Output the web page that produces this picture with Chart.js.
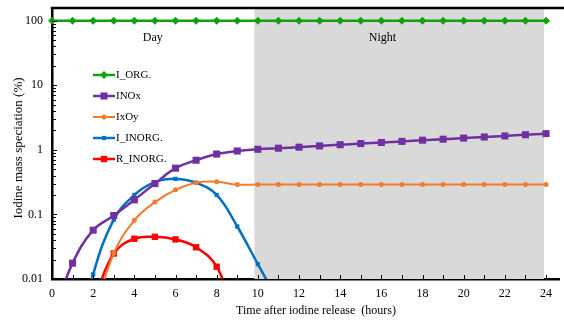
<!DOCTYPE html>
<html>
<head>
<meta charset="utf-8">
<script src="https://cdn.jsdelivr.net/npm/chart.js@4/dist/chart.umd.min.js"></script>
<style>
html,body{margin:0;padding:0;background:#fff;}
#wrap{width:564px;height:320px;position:relative;}
</style>
</head>
<body>
<div id="wrap"><canvas id="c" width="564" height="320"></canvas></div>
<script>
const hours = [0,1,2,3,4,5,6,7,8,9,10,11,12,13,14,15,16,17,18,19,20,21,22,23,24];
const iOrg  = [100,100,100,100,100,100,100,100,100,100,100,100,100,100,100,100,100,100,100,100,100,100,100,100,100];
const inox  = [0.0025,0.0176,0.057,0.096,0.168,0.30,0.52,0.69,0.86,0.96,1.02,1.06,1.10,1.15,1.20,1.25,1.30,1.35,1.41,1.46,1.52,1.58,1.64,1.71,1.78];
const ixoy  = [null,null,0.0025,0.025,0.081,0.155,0.24,0.31,0.32,0.29,0.29,0.29,0.29,0.29,0.29,0.29,0.29,0.29,0.29,0.29,0.29,0.29,0.29,0.29,0.29];
const iInorg= [null,0.0005,0.0118,0.083,0.20,0.316,0.355,0.31,0.20,0.065,0.017,0.0045,null,null,null,null,null,null,null,null,null,null,null,null,null];
const rInorg= [null,null,0.0043,0.0248,0.042,0.045,0.041,0.031,0.0155,0.0023,null,null,null,null,null,null,null,null,null,null,null,null,null,null,null];
const seriesNames = ['I_ORG.','INOx','IxOy','I_INORG.','R_INORG.'];
const xTicks = [0,2,4,6,8,10,12,14,16,18,20,22,24];
const yTicks = [0.01,0.1,1,10,100];
const nightStart = 9.83, nightEnd = 23.9;
const xTitle = 'Time after iodine release  (hours)';
const yTitle = 'Iodine mass speciation (%)';

const FONT = "'Liberation Serif','Times New Roman',serif";
const toXY = arr => hours.map((h,i)=>({x:h,y:arr[i]}));

const clipBottom = {left:8,top:8,right:8,bottom:0};

const datasets = [
  {label:seriesNames[0], data:toXY(iOrg), borderColor:'#12a012', backgroundColor:'#12a012', borderWidth:2.5, pointStyle:'rectRot', pointRadius:4, clip:false},
  {label:seriesNames[1], data:toXY(inox), borderColor:'#7030a0', backgroundColor:'#7030a0', borderWidth:2.5, pointStyle:'rect', pointRadius:5, clip:clipBottom},
  {label:seriesNames[2], data:toXY(ixoy), borderColor:'#ed7d31', backgroundColor:'#ed7d31', borderWidth:2, pointStyle:'circle', pointRadius:2.5, clip:clipBottom},
  {label:seriesNames[3], data:toXY(iInorg), borderColor:'#0070c0', backgroundColor:'#0070c0', borderWidth:2.5, pointStyle:'rect', pointRadius:3, clip:clipBottom},
  {label:seriesNames[4], data:toXY(rInorg), borderColor:'#ff0000', backgroundColor:'#ff0000', borderWidth:2.5, pointStyle:'rect', pointRadius:4.5, clip:clipBottom}
];
datasets.forEach(d=>{ d.tension=0.4; d.spanGaps=false; d.pointBorderWidth=0; d.pointHoverRadius=d.pointRadius; d.fill=false; });

const decor = {
  id:'decor',
  beforeDatasetsDraw(chart){
    const {ctx, chartArea:a, scales:{x,y}} = chart;
    ctx.save();
    ctx.fillStyle = '#d9d9d9';
    const x0 = x.getPixelForValue(nightStart), x1 = x.getPixelForValue(nightEnd);
    ctx.fillRect(x0, a.top, x1-x0, a.bottom-a.top);
    ctx.fillStyle = '#000';
    ctx.font = '12px '+FONT;
    ctx.textAlign='center'; ctx.textBaseline='middle';
    ctx.fillText('Day', x.getPixelForValue(4.9), 38);
    ctx.fillText('Night', x.getPixelForValue(16.05), 38);
    ctx.restore();
  },
  afterDraw(chart){
    const {ctx, chartArea:a, scales:{x,y}} = chart;
    ctx.save();
    ctx.strokeStyle='#000';
    ctx.lineWidth=2.5;
    ctx.beginPath(); ctx.moveTo(a.left-1.25, a.top); ctx.lineTo(chart.width, a.top); ctx.stroke();
    ctx.lineWidth=1;
    ctx.beginPath();
    for (let e=-2; e<=2; e++){
      for (let m=1; m<=9; m++){
        const v = m*Math.pow(10,e);
        if (v>y.max) continue;
        const py = Math.round(y.getPixelForValue(v))+0.5;
        ctx.moveTo(a.left, py); ctx.lineTo(a.left+ (m===1?5:4), py);
      }
    }
    for (let h=1; h<=24; h++){
      const px = Math.round(x.getPixelForValue(h))+0.5;
      ctx.moveTo(px, a.bottom); ctx.lineTo(px, a.bottom-4);
    }
    ctx.stroke();
    ctx.fillStyle='#000';
    ctx.textAlign='center'; ctx.textBaseline='middle';
    ctx.font='12px '+FONT;
    ctx.fillText(xTitle, 316, 311);
    ctx.font='13px '+FONT;
    ctx.translate(19, 148);
    ctx.rotate(-Math.PI/2);
    ctx.fillText(yTitle,0,0);
    ctx.restore();
    ctx.save();
    chart.data.datasets.forEach((d,i)=>{
      const yy = 75 + i*21;
      ctx.strokeStyle=d.borderColor; ctx.lineWidth=d.borderWidth;
      ctx.beginPath(); ctx.moveTo(93,yy); ctx.lineTo(115,yy); ctx.stroke();
      ctx.fillStyle=d.backgroundColor;
      Chart.helpers.drawPoint(ctx,{pointStyle:d.pointStyle, radius:d.pointRadius, rotation:0, borderWidth:0}, 104, yy);
      ctx.fillStyle='#000';
      ctx.font='11px '+FONT;
      ctx.textAlign='left'; ctx.textBaseline='middle';
      ctx.fillText(d.label, 116, yy+0.5);
    });
    ctx.restore();
  }
};

new Chart(document.getElementById('c'), {
  type:'line',
  data:{datasets},
  plugins:[decor],
  options:{
    responsive:false, animation:false, devicePixelRatio:1,
    layout:{padding:{top:8,left:0,right:0,bottom:0}},
    plugins:{legend:{display:false}, tooltip:{enabled:false}},
    scales:{
      x:{
        type:'linear', min:0, max:24.63,
        afterBuildTicks: s => { s.ticks = xTicks.map(v=>({value:v})); },
        afterFit: s => { s.height = 41; s.paddingLeft = 0; s.paddingRight = 0; },
        grid:{display:false, drawTicks:false},
        border:{display:true, color:'#000', width:2.5},
        ticks:{color:'#000', font:{family:FONT, size:12}, padding:8, maxRotation:0, autoSkip:false}
      },
      y:{
        type:'logarithmic', min:0.01, max:157,
        afterBuildTicks: s => { s.ticks = yTicks.map(v=>({value:v})); },
        afterFit: s => { s.width = 52; s.paddingTop = 0; s.paddingBottom = 0; },
        grid:{display:false, drawTicks:false},
        border:{display:true, color:'#000', width:2.5},
        ticks:{color:'#000', font:{family:FONT, size:12}, padding:9, autoSkip:false,
          callback: v => String(v)}
      }
    }
  }
});
</script>
</body>
</html>
